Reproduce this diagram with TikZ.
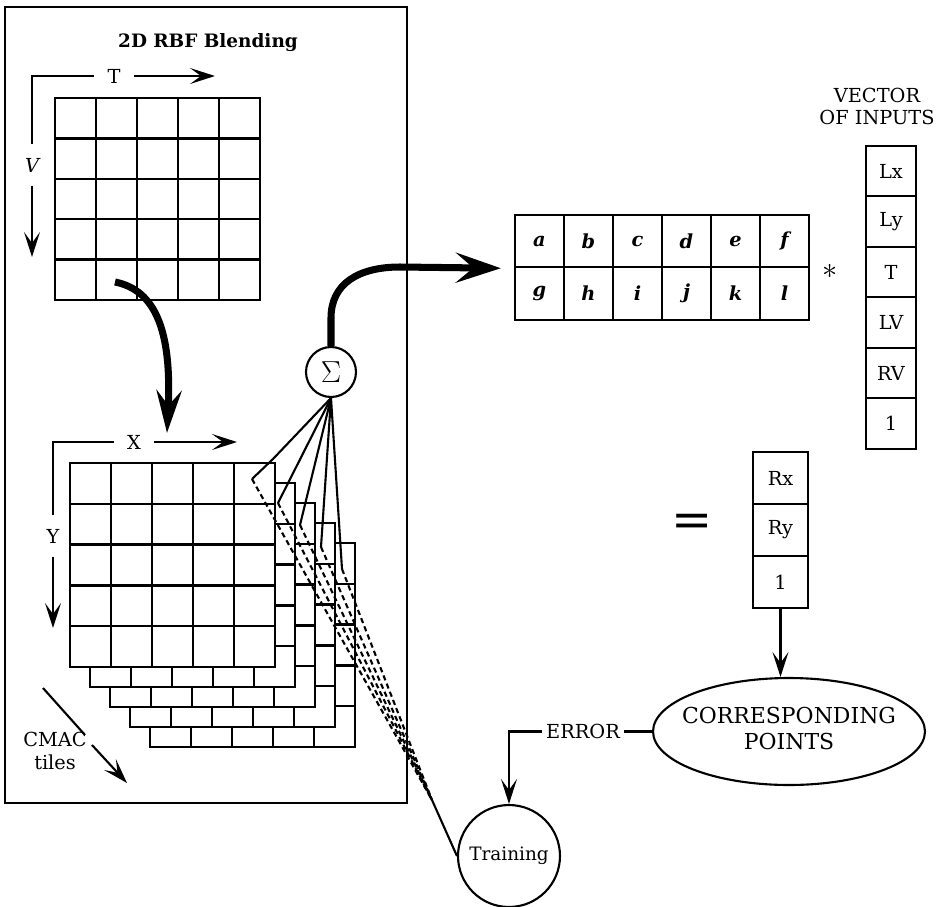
\documentclass[tikz,border=0pt]{standalone}
\usepackage{fontspec}
\setmainfont{DejaVu Serif}
\usetikzlibrary{arrows.meta,shapes.geometric}

\begin{document}
\begin{tikzpicture}[x=0.02cm, y=-0.02cm, line width=1.2pt]
	\tikzstyle{every node} = [font=\fontsize{11}{13}\selectfont]
	\tikzstyle{axislabel} = [inner sep=0.25cm]
	\tikzstyle{cell} = [draw, line width=1.3pt, minimum width=1cm, minimum height=1.01cm, inner sep=0pt]
	\tikzstyle{mcell} = [draw, line width=1.3pt, minimum width=0.98cm, minimum height=1.05cm, inner sep=0pt, font=\bfseries\itshape\fontsize{11}{13}\selectfont]
	\tikzstyle{rcell} = [draw, line width=1.3pt, minimum width=1.1cm, minimum height=1.04cm, inner sep=0pt]
	\tikzstyle{thin arrow} = [-{Stealth[length=0.5cm, width=0.32cm, inset=0.22cm]}]
	\tikzstyle{fat arrow} = [line width=4pt, -{Stealth[length=0.9cm, width=0.6cm, inset=0.35cm]}]
	\useasboundingbox (0,0) rectangle (941,907);

	% blending box
	\draw (5,7) rectangle (407,803);
	\node[font=\bfseries\fontsize{10.5}{12}\selectfont] (title) at (208,43) {2D RBF Blending};

	% RBF grid
	\draw[line width=1.4pt] (55,98) rectangle (260,300);
	\foreach \i in {1,...,4} {
		\draw[line width=1.4pt] (55+41*\i,98) -- (55+41*\i,300);
		\draw[line width=1.4pt] (55,98+40.4*\i) -- (260,98+40.4*\i);
	}
	\coordinate (tv) at (32,76);
	\node[axislabel] (T) at (114,76) {T};
	\node[axislabel, font=\itshape\fontsize{11}{13}\selectfont] (V) at (32,165) {V};
	\coordinate (Tend) at (215,76);
	\coordinate (Vend) at (32,257);
	\draw (T) -- (tv) -- (V);
	\draw[thin arrow] (T) -- (Tend);
	\draw[thin arrow] (V) -- (Vend);

	% CMAC tiles, back to front
	\foreach \k in {4,3,2,1,0} {
		\begin{scope}[shift={(20*\k,20*\k)}]
			\filldraw[fill=white, line width=1.4pt] (70,463) rectangle (275,667);
			\foreach \i in {1,...,4} {
				\draw[line width=1.4pt] (70+41*\i,463) -- (70+41*\i,667);
				\draw[line width=1.4pt] (70,463+40.8*\i) -- (275,463+40.8*\i);
			}
		\end{scope}
	}
	\coordinate (xy) at (53,442);
	\node[axislabel] (X) at (134,442) {X};
	\node[axislabel] (Y) at (53,536) {Y};
	\coordinate (Xend) at (237,442);
	\coordinate (Yend) at (53,628);
	\draw (X) -- (xy) -- (Y);
	\draw[thin arrow] (X) -- (Xend);
	\draw[thin arrow] (Y) -- (Yend);

	\node[align=center, inner sep=0pt] (cmac) at (55,751) {CMAC\\tiles};
	\coordinate (ct0) at (43,688);
	\coordinate (ct1) at (85,735);
	\coordinate (ct2) at (92,745);
	\coordinate (ct3) at (127,783);
	\draw (ct0) -- (ct1);
	\draw[thin arrow] (ct2) -- (ct3);

	% blending into tiles
	\coordinate (blendout) at (115,282);
	\coordinate (tilesin) at (167,433);
	\draw[fat arrow, -{Stealth[length=0.85cm, width=0.5cm, inset=0.3cm]}] (blendout) .. controls (155,290) and (172,330) .. (tilesin);

	% weight matrix
	\foreach \lab [count=\i from 0] in {a,b,c,d,e,f} {
		\node[mcell] (m-\lab) at (539.5+49*\i,241) {\lab};
	}
	\foreach \lab [count=\i from 0] in {g,h,i,j,k,l} {
		\node[mcell] (m-\lab) at (539.5+49*\i,293.5) {\lab};
	}
	\node[font=\LARGE] (times) at (830,271) {$\ast$};

	% vector of inputs
	\node[align=center, font=\fontsize{11}{12.5}\selectfont] (vlabel) at (877,106) {VECTOR\\OF INPUTS};
	\foreach \lab [count=\i from 0] in {Lx,Ly,T,LV,RV,1} {
		\node[cell] (in-\i) at (891,171+50.5*\i) {\lab};
	}

	% result
	\node[font=\fontsize{28}{28}\selectfont] (eq) at (692,525) {=};
	\foreach \lab [count=\i from 0] in {Rx,Ry,1} {
		\node[rcell] (out-\i) at (780.5,478+52*\i) {\lab};
	}

	% summation
	\node[draw, circle, minimum size=1cm, inner sep=0pt, font=\LARGE] (sigma) at (331,372) {$\Sigma$};
	\draw[fat arrow, shorten >=0.26cm] (sigma.north) -- (331,318) .. controls (331,284) and (358,267) .. (400,267) -- (m-a.south west);

	\coordinate (hook) at (273,459);
	\coordinate (tap0) at (252,479);
	\coordinate (tap1) at (278,503);
	\coordinate (tap2) at (300,525);
	\coordinate (tap3) at (321,547);
	\coordinate (tap4) at (342,569);
	\coordinate (knot) at (432,800);
	\draw (sigma.south) -- (hook) -- (tap0);
	\foreach \k in {1,...,4} \draw (sigma.south) -- (tap\k);
	\foreach \k in {0,...,4} \draw[densely dashed] (tap\k) -- (knot);

	% training loop
	\node[draw, ellipse, minimum width=5.44cm, minimum height=2.14cm, inner sep=0pt, font=\fontsize{12.5}{15}\selectfont] (corr) at (789,731.5) {\makebox[0pt]{\begin{tabular}{@{}c@{}}CORRESPONDING\\POINTS\end{tabular}}};
	\node[draw, circle, minimum size=2.04cm, inner sep=0pt, font=\fontsize{10.5}{12}\selectfont] (train) at (509,856) {Training};
	\node[inner sep=2pt] (err) at (583,731.5) {ERROR};
	\draw[thin arrow] (out-2.south) -- (out-2.south |- corr.north);
	\draw (corr.west) -- (err);
	\draw[thin arrow] (err) -| (train);
	\draw (knot) -- (train.west);
\end{tikzpicture}
\end{document}
